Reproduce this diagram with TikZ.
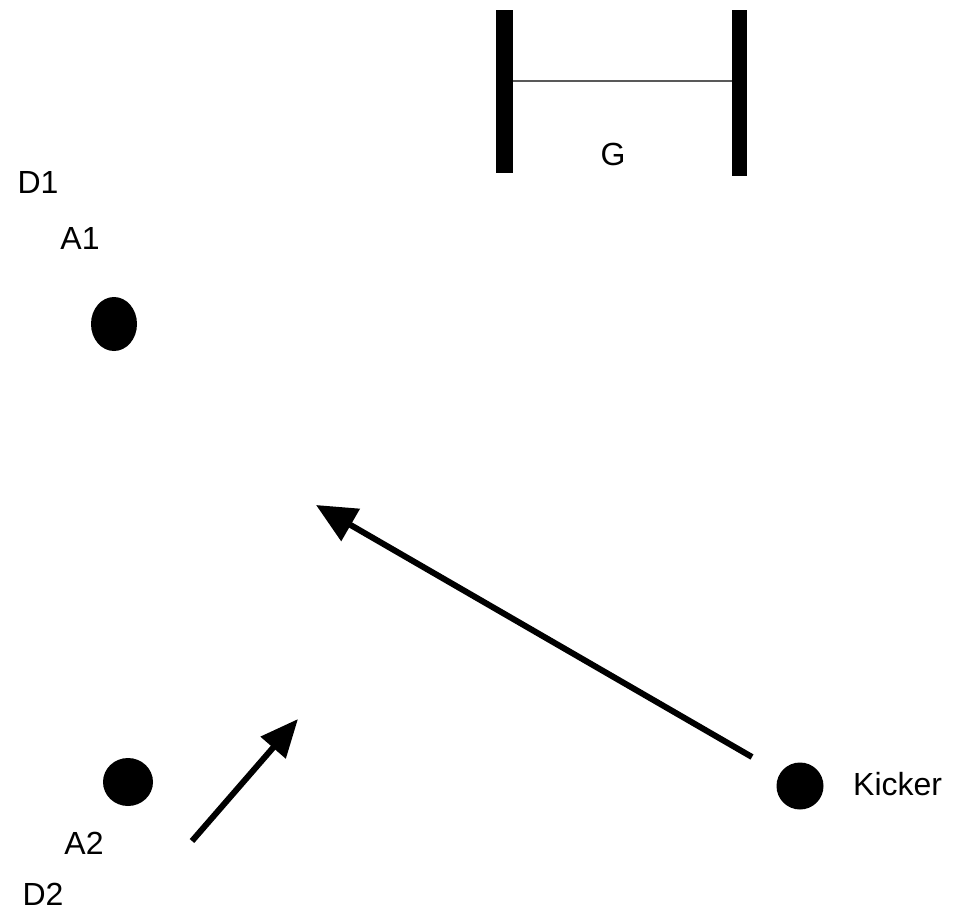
\documentclass[tikz,border=0pt]{standalone}
\usepackage{fontspec}
\setmainfont{Liberation Sans}
\usetikzlibrary{arrows.meta,shapes.geometric}

\tikzset{
    player/.style={ellipse,fill=black,inner sep=0pt},
    lbl/.style={inner sep=0pt,font=\fontsize{32}{38}\selectfont},
    pass/.style={line width=6pt,-{Triangle[length=40pt,width=36pt]}},
    post/.style={fill=black}
}

\begin{document}
\begin{tikzpicture}[x=1pt,y=-1pt]
        \useasboundingbox (0,0) rectangle (961,918);

        % goal
        \fill[post] (496,10) rectangle (513,173);
        \fill[post] (732,10) rectangle (747,176);
        \draw[gray!70!black,line width=1.5pt] (513,81) -- (732,81);

        \node[player,minimum width=46pt,minimum height=54pt] (A1) at (114,324) {};
        \node[player,minimum width=50pt,minimum height=48pt] (A2) at (128,782) {};
        \node[player,minimum width=47pt,minimum height=47pt] (K) at (800,786) {};

        \coordinate (k1) at (752,757);
        \coordinate (k2) at (316,505);
        \coordinate (a1) at (192,841);
        \coordinate (a2) at (298,719);

        \draw[pass] (k1) -- (k2);
        \draw[pass,-{Triangle[length=38pt,width=32pt]}] (a1) -- (a2);

        \node[lbl] (G) at (613,154) {G};
        \node[lbl] (D1) at (38,182) {D1};
        \node[lbl] (L1) at (80,238) {A1};
        \node[lbl] (L2) at (84,843) {A2};
        \node[lbl] (D2) at (43,894) {D2};
        \node[lbl,anchor=west] (KL) at (853,784) {Kicker};
    \end{tikzpicture}
\end{document}
